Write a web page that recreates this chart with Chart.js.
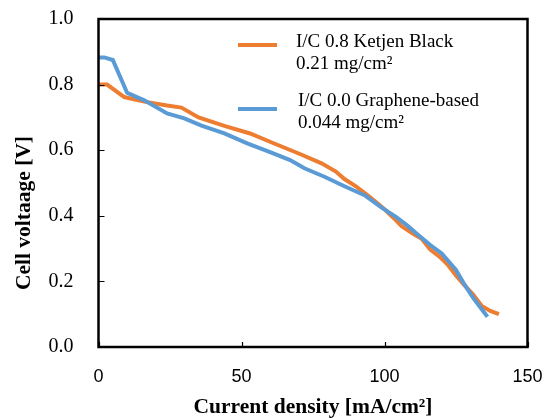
<!DOCTYPE html>
<html>
<head>
<meta charset="utf-8">
<script src="https://cdn.jsdelivr.net/npm/chart.js@4.4.1/dist/chart.umd.min.js"></script>
<style>
html,body{margin:0;padding:0;background:#fff;}
#wrap{position:relative;width:546px;height:418px;}
</style>
</head>
<body>
<div id="wrap"><canvas id="c" width="546" height="418"></canvas></div>
<script>
// Data
const ketjenX = [0, 3, 9, 16, 24, 29, 35, 44, 53, 61, 70, 78, 83, 86, 90, 94, 97, 100, 103, 106, 110, 113, 116, 119, 122, 125, 128, 131, 134, 137, 140];
const ketjenY = [0.80, 0.80, 0.762, 0.748, 0.736, 0.730, 0.700, 0.674, 0.651, 0.622, 0.590, 0.560, 0.535, 0.512, 0.490, 0.463, 0.442, 0.420, 0.395, 0.368, 0.345, 0.330, 0.297, 0.277, 0.252, 0.218, 0.188, 0.160, 0.125, 0.110, 0.100];
const grapheneX = [0, 2, 5, 10, 16, 24, 30, 36, 44, 52, 60, 67, 72, 79, 86, 93, 99, 104, 108, 112, 116, 120, 125, 128, 131, 134, 136];
const grapheneY = [0.883, 0.883, 0.875, 0.775, 0.752, 0.712, 0.697, 0.675, 0.651, 0.621, 0.594, 0.570, 0.545, 0.519, 0.490, 0.463, 0.425, 0.397, 0.370, 0.340, 0.311, 0.285, 0.235, 0.190, 0.150, 0.115, 0.092];
const legendLabels = [["I/C 0.8 Ketjen Black", "0.21 mg/cm²"], ["I/C 0.0 Graphene-based", "0.044 mg/cm²"]];
const xTitle = "Current density [mA/cm²]";
const yTitle = "Cell voltaage [V]";

const ORANGE = '#ED7D31';
const BLUE = '#5B9BD5';

const toPts = (xs, ys) => xs.map((x, i) => ({x: x, y: ys[i]}));

const framePlugin = {
  id: 'frame',
  afterDatasetsDraw(chart) {
    const {ctx, chartArea: a, scales: {x, y}} = chart;
    ctx.save();
    ctx.strokeStyle = '#000';
    ctx.lineWidth = 2.5;
    ctx.strokeRect(a.left, a.top, a.right - a.left, a.bottom - a.top);
    ctx.lineWidth = 1.2;
    ctx.beginPath();
    y.ticks.forEach(t => {
      const py = Math.round(y.getPixelForValue(t.value)) + 0.5;
      ctx.moveTo(a.left, py); ctx.lineTo(a.left + 6, py);
    });
    x.ticks.forEach(t => {
      const px = Math.round(x.getPixelForValue(t.value)) + 0.5;
      ctx.moveTo(px, a.bottom); ctx.lineTo(px, a.bottom - 5);
    });
    ctx.stroke();
    // legend
    const cols = [ORANGE, BLUE];
    const rows = [{ly: 45, tx: 296, t1: 42, t2: 64}, {ly: 109, tx: 298, t1: 101, t2: 123}];
    ctx.font = '19px "Liberation Serif"';
    ctx.fillStyle = '#000';
    ctx.textBaseline = 'middle';
    ctx.textAlign = 'left';
    rows.forEach((r, i) => {
      ctx.strokeStyle = cols[i];
      ctx.lineWidth = 4;
      ctx.beginPath();
      ctx.moveTo(238, r.ly); ctx.lineTo(277, r.ly);
      ctx.stroke();
      ctx.fillText(legendLabels[i][0], r.tx, r.t1);
      ctx.fillText(legendLabels[i][1], r.tx, r.t2);
    });
    // y-axis title (sits lower than the plot centre in the reference)
    ctx.translate(24, 213);
    ctx.rotate(-Math.PI / 2);
    ctx.font = 'bold 21.5px "Liberation Serif"';
    ctx.textAlign = 'center';
    ctx.fillText(yTitle, 0, 0);
    ctx.restore();
  }
};

function zeroPad(s) { s.paddingLeft = 0; s.paddingRight = 0; s.paddingTop = 0; s.paddingBottom = 0; }

new Chart(document.getElementById('c'), {
  type: 'line',
  data: {
    datasets: [
      {label: legendLabels[1].join(' '), data: toPts(grapheneX, grapheneY), borderColor: BLUE, borderWidth: 4, pointRadius: 0, tension: 0, fill: false, order: 0},
      {label: legendLabels[0].join(' '), data: toPts(ketjenX, ketjenY), borderColor: ORANGE, borderWidth: 4, pointRadius: 0, tension: 0, fill: false, order: 1}
    ]
  },
  options: {
    responsive: false,
    animation: false,
    devicePixelRatio: 1,
    layout: {padding: {top: 19, right: 18.5, left: 0, bottom: 0}},
    plugins: {legend: {display: false}, tooltip: {enabled: false}},
    scales: {
      x: {
        type: 'linear', min: 0, max: 150,
        ticks: {stepSize: 50, padding: 11, color: '#000', font: {family: '"Liberation Sans"', size: 18}},
        grid: {display: false},
        border: {display: false},
        title: {display: true, text: xTitle, color: '#000', padding: {top: 0, bottom: 0}, font: {family: '"Liberation Serif"', size: 21.5, weight: 'bold', lineHeight: 1}},
        afterFit: s => { s.height = 71; zeroPad(s); }
      },
      y: {
        min: 0, max: 1.0,
        ticks: {stepSize: 0.2, padding: 17, color: '#000', font: {family: '"Liberation Serif"', size: 20}, callback: v => Number(v).toFixed(1)},
        grid: {display: false},
        border: {display: false},
        title: {display: false, text: yTitle},
        afterFit: s => { s.width = 98.5; zeroPad(s); }
      }
    }
  },
  plugins: [framePlugin]
});
</script>
</body>
</html>
